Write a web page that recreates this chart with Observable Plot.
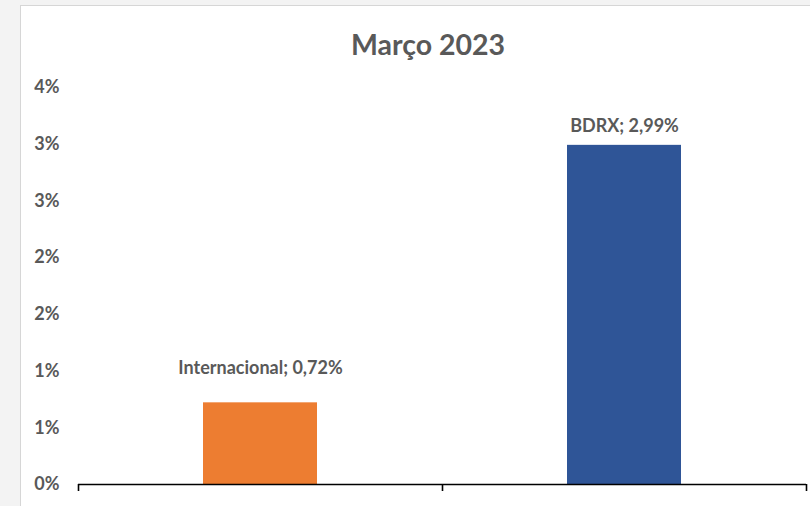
<!DOCTYPE html>
<html>
<head>
<meta charset="utf-8">
<script src="https://cdn.jsdelivr.net/npm/d3@7"></script>
<script src="https://cdn.jsdelivr.net/npm/@observablehq/plot@0.6"></script>
<style>
  html, body { margin: 0; padding: 0; background: #f3f3f3; width: 810px; height: 506px; overflow: hidden; }
  #wrap { position: absolute; left: 20px; top: 5px; width: 790px; height: 501px; background: #fff;
          border-left: 1px solid #d6d6d6; border-top: 1px solid #d6d6d6; box-sizing: border-box; }
  #title { position: absolute; left: 0; top: 21px; width: 814px; text-align: center;
           font-family: Lato, sans-serif; font-weight: bold; font-size: 28.5px; line-height: 1.2; color: #595959; }
  #chart { position: absolute; left: 0; top: 60px; }
</style>
</head>
<body>
<div id="wrap">
  <div id="title">Março 2023</div>
  <div id="chart"></div>
</div>
<script>
// Data
const categories = ["Internacional", "BDRX"];
const values = [0.72, 2.99];          // percent
const colors = ["#ED7D31", "#2F5597"];
const tickValues = [0, 0.5, 1, 1.5, 2, 2.5, 3, 3.5];
const tickLabels = ["0%", "1%", "1%", "2%", "2%", "3%", "3%", "4%"];

// Layout constants
const W = 789, H = 440, mL = 57, mR = 4, mT = 21, mB = 22;
const labelDy = [-35, -19];
const step = (W - mL - mR) / categories.length;

const rows = categories.map((c, i) => ({cat: c, value: values[i], color: colors[i]}));
const fmt = v => v.toFixed(2).replace(".", ",") + "%";

const chart = Plot.plot({
  width: W, height: H,
  marginLeft: mL, marginRight: mR, marginTop: mT, marginBottom: mB,
  style: {fontFamily: "Lato, sans-serif", fontWeight: "bold", color: "#595959", background: "transparent"},
  x: {domain: categories, paddingInner: 0.688, paddingOuter: 0.344, axis: null, label: null},
  y: {domain: [0, 3.5], axis: null, label: null},
  marks: [
    Plot.axisY({ticks: tickValues, tickFormat: d => tickLabels[tickValues.indexOf(d)],
                tickSize: 0, tickPadding: 19, fontSize: 18, fill: "#595959", label: null}),
    Plot.barY(rows, {x: "cat", y: "value", fill: "color"}),
    Plot.ruleY([0], {stroke: "#000", strokeWidth: 1.6}),
    Plot.axisX({ticks: categories, tickFormat: () => "", tickSize: 7, dx: -step / 2,
                stroke: "#000", strokeWidth: 1.6, label: null}),
    Plot.axisX({ticks: categories.slice(-1), tickFormat: () => "", tickSize: 7, dx: step / 2,
                stroke: "#000", strokeWidth: 1.6, label: null}),
    ...rows.map((r, i) => Plot.text([r], {x: "cat", y: "value", text: d => `${d.cat}; ${fmt(d.value)}`,
                dy: labelDy[i], fontSize: 18, fill: "#595959", fontWeight: "bold"}))
  ]
});
document.getElementById("chart").appendChild(chart);
</script>
</body>
</html>
